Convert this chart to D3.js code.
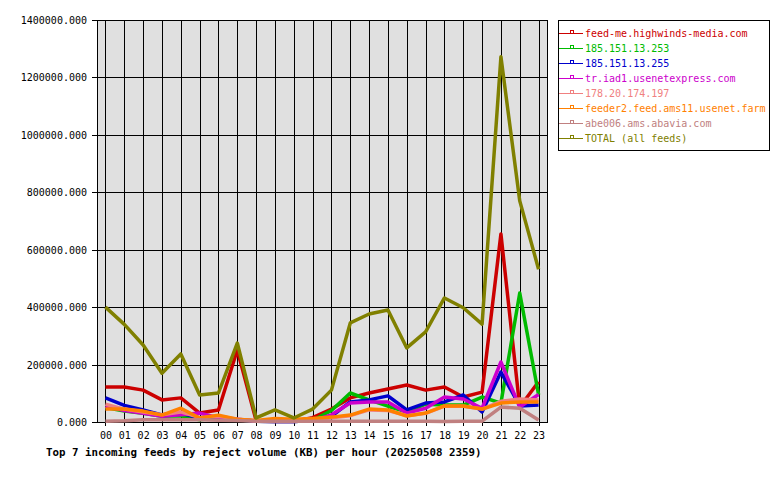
<!DOCTYPE html>
<html>
<head>
<meta charset="utf-8">
<script src="https://cdn.jsdelivr.net/npm/d3@7"></script>
<style>
  body { margin: 0; background: #fff; }
  svg text { font-family: "DejaVu Sans Mono", monospace; }
</style>
</head>
<body>
<svg id="chart" width="780" height="480"></svg>
<script>
const hours = ["00","01","02","03","04","05","06","07","08","09","10","11",
  "12","13","14","15","16","17","18","19","20","21","22","23"];

const feedNames = [
  "feed-me.highwinds-media.com",
  "185.151.13.253",
  "185.151.13.255",
  "tr.iad1.usenetexpress.com",
  "178.20.174.197",
  "feeder2.feed.ams11.usenet.farm",
  "abe006.ams.abavia.com",
  "TOTAL (all feeds)"
];
const feedColors = ["#cc0000", "#00bb00", "#0000cc", "#cc00cc", "#f08080", "#ff8000", "#c08080", "#808000"];

const highwinds = [122000, 122000, 111000, 77000, 84000, 31000, 42000, 251000, 5000, 3000, 3000, 15000,
  45000, 84000, 101000, 115000, 129000, 111000, 122000, 87000, 104000, 655000, 52000, 140000];
const ip253 = [50000, 38000, 30000, 20000, 22000, 8000, 15000, 8000, 3000, 2000, 2000, 5000,
  40000, 101000, 77000, 55000, 35000, 62000, 59000, 59000, 87000, 66000, 449000, 95000];
const ip255 = [84000, 58000, 42000, 25000, 30000, 15000, 20000, 8000, 3000, 2000, 2000, 5000,
  20000, 70000, 77000, 91000, 42000, 66000, 70000, 94000, 35000, 174000, 56000, 59000];
const iad1 = [55000, 40000, 30000, 20000, 25000, 31000, 15000, 10000, 3000, 2000, 2000, 5000,
  25000, 66000, 70000, 70000, 31000, 48000, 87000, 80000, 48000, 209000, 52000, 96000];
const ip197 = [62000, 45000, 35000, 25000, 35000, 15000, 20000, 10000, 4000, 3000, 3000, 6000,
  15000, 22000, 42000, 40000, 22000, 30000, 55000, 55000, 45000, 72000, 80000, 77000];
const feeder2 = [45000, 45000, 38000, 24000, 48000, 14000, 24000, 10000, 5000, 12000, 10000, 12000,
  17000, 24000, 45000, 42000, 21000, 31000, 56000, 56000, 45000, 66000, 70000, 70000];
const abe006 = [3000, 4000, 8000, 8000, 8000, 8000, 6000, 5000, 3000, 3000, 3000, 3000,
  3000, 3000, 3000, 3000, 3000, 3000, 2000, 3000, 3000, 52000, 48000, 7000];
const total = [400000, 340000, 268000, 170000, 237000, 94000, 101000, 275000, 14000, 42000, 14000, 45000,
  111000, 345000, 376000, 390000, 258000, 314000, 432000, 398000, 341000, 1272000, 770000, 532000];

const seriesValues = [highwinds, ip253, ip255, iad1, ip197, feeder2, abe006, total];
const yTicks = [0, 200000, 400000, 600000, 800000, 1000000, 1200000, 1400000];
const title = "Top 7 incoming feeds by reject volume (KB) per hour (20250508 2359)";

const svg = d3.select("#chart");
const plotLeft = 97, plotRight = 548, plotTop = 20, plotBottom = 422;

const x = d3.scaleLinear().domain([-0.45, 23.5]).range([plotLeft, plotRight]);
const y = d3.scaleLinear().domain([0, 1400000]).range([plotBottom, plotTop]);

// plot background
svg.append("rect")
  .attr("x", plotLeft).attr("y", plotTop)
  .attr("width", plotRight - plotLeft).attr("height", plotBottom - plotTop)
  .attr("fill", "#e0e0e0");

// grid
svg.append("g").selectAll("line").data(hours).enter().append("line")
  .attr("x1", (d, i) => Math.round(x(i)) + 0.5).attr("x2", (d, i) => Math.round(x(i)) + 0.5)
  .attr("y1", plotTop).attr("y2", plotBottom + 4)
  .attr("stroke", "#000").attr("stroke-width", 1);
svg.append("g").selectAll("line").data(yTicks).enter().append("line")
  .attr("x1", plotLeft - 5).attr("x2", plotRight)
  .attr("y1", d => Math.round(y(d)) + 0.5).attr("y2", d => Math.round(y(d)) + 0.5)
  .attr("stroke", "#000").attr("stroke-width", 1);

// frame
svg.append("rect")
  .attr("x", plotLeft + 0.5).attr("y", plotTop + 0.5)
  .attr("width", plotRight - plotLeft - 1).attr("height", plotBottom - plotTop)
  .attr("fill", "none").attr("stroke", "#000");

// y tick labels
svg.append("g").selectAll("text").data(yTicks).enter().append("text")
  .attr("x", plotLeft - 10).attr("y", d => y(d) + 4)
  .attr("text-anchor", "end").attr("font-size", "10px")
  .text(d => d3.format(".3f")(d));

// x tick labels
svg.append("g").selectAll("text").data(hours).enter().append("text")
  .attr("x", (d, i) => x(i) + 0.5).attr("y", 439)
  .attr("text-anchor", "middle").attr("font-size", "10px")
  .text(d => d);

// title
svg.append("text")
  .attr("x", 46).attr("y", 456)
  .attr("font-size", "10.8px").attr("font-weight", "bold")
  .text(title);

// lines
const line = d3.line().x((d, i) => x(i)).y(d => y(d));
svg.append("g").selectAll("path").data(seriesValues).enter().append("path")
  .attr("d", d => line(d))
  .attr("fill", "none")
  .attr("stroke", (d, i) => feedColors[i])
  .attr("stroke-width", 3.5)
  .attr("stroke-linejoin", "round");

// legend
const legend = svg.append("g");
legend.append("rect")
  .attr("x", 558.5).attr("y", 20.5).attr("width", 211).attr("height", 130)
  .attr("fill", "#fff").attr("stroke", "#000");
const item = legend.selectAll("g.item").data(feedNames).enter().append("g")
  .attr("class", "item")
  .attr("transform", (d, i) => `translate(0, ${33 + i * 15})`);
item.append("line")
  .attr("x1", 559).attr("x2", 583).attr("y1", 0.5).attr("y2", 0.5)
  .attr("stroke", (d, i) => feedColors[i]);
item.append("rect")
  .attr("x", 570.5).attr("y", -2.5).attr("width", 3).attr("height", 3)
  .attr("fill", "#fff")
  .attr("stroke", (d, i) => feedColors[i]);
item.append("text")
  .attr("x", 585).attr("y", 4)
  .attr("font-size", "10px")
  .attr("fill", (d, i) => feedColors[i])
  .text(d => d);
</script>
</body>
</html>
